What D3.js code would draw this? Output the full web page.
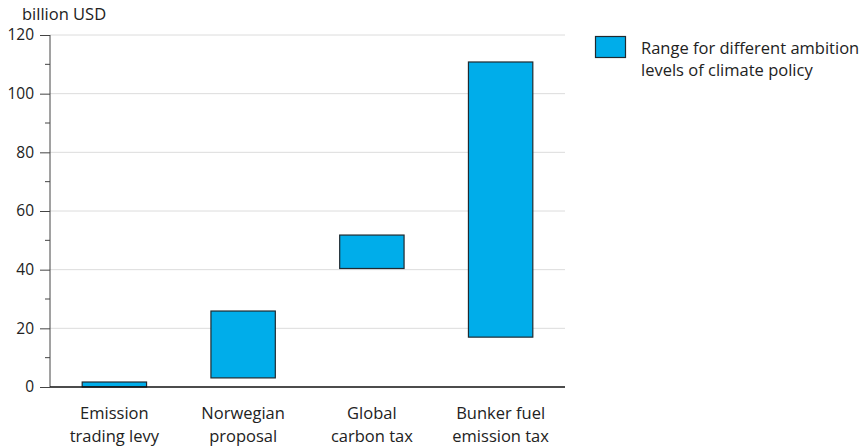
<!DOCTYPE html>
<html>
<head>
<meta charset="utf-8">
<script src="https://cdn.jsdelivr.net/npm/d3@7"></script>
<style>
  html, body { margin: 0; padding: 0; background: #fff; }
  svg { display: block; font-family: "Open Sans", "Noto Sans", sans-serif; }
</style>
</head>
<body>
<svg id="chart" width="860" height="447"></svg>
<script>
// Revenue ranges per financing instrument (billion USD)
const categories = [
  ["Emission", "trading levy"],
  ["Norwegian", "proposal"],
  ["Global", "carbon tax"],
  ["Bunker fuel", "emission tax"]
];
const lowValues = [0, 3.1, 40.4, 17.0];
const highValues = [1.7, 25.9, 51.8, 110.8];
const yTicks = [0, 20, 40, 60, 80, 100, 120];
const yMinorTicks = [10, 30, 50, 70, 90, 110];
const unitLabel = "billion USD";
const legendLines = ["Range for different ambition", "levels of climate policy"];

const svg = d3.select("#chart");
const margin = { left: 50, right: 295, top: 35, bottom: 60 };
const width = 860, height = 447;
const fill = "#00adea";
const keys = categories.map(c => c.join(" "));

const x = d3.scaleBand()
  .domain(keys)
  .range([margin.left, width - margin.right])
  .paddingInner(0.5)
  .paddingOuter(0.25);

const y = d3.scaleLinear()
  .domain([0, 120])
  .range([height - margin.bottom, margin.top]);

// Horizontal gridlines
svg.append("g")
  .selectAll("line")
  .data(yTicks.filter(d => d > 0))
  .join("line")
  .attr("x1", margin.left)
  .attr("x2", width - margin.right)
  .attr("y1", d => y(d))
  .attr("y2", d => y(d))
  .attr("stroke", "#dcdcdc")
  .attr("stroke-width", 1);

// Range bars
svg.append("g")
  .selectAll("rect")
  .data(keys)
  .join("rect")
  .attr("x", d => x(d))
  .attr("width", x.bandwidth())
  .attr("y", (d, i) => y(highValues[i]))
  .attr("height", (d, i) => y(lowValues[i]) - y(highValues[i]))
  .attr("fill", fill)
  .attr("stroke", "#1f2a30")
  .attr("stroke-width", 1.2);

// Y axis with major and minor ticks
const yAxis = svg.append("g")
  .attr("transform", `translate(${margin.left},0)`)
  .call(d3.axisLeft(y).tickValues(yTicks).tickSize(10).tickPadding(6).tickFormat(d3.format("d")));
yAxis.select(".domain").attr("stroke", "#444").attr("d", `M0,${y(0)}V${y(120)}`);
yAxis.selectAll(".tick line").attr("stroke", "#444");
yAxis.selectAll(".tick text")
  .attr("font-size", 15.5)
  .attr("fill", "#222")
  .attr("font-family", "'Open Sans', sans-serif");

svg.append("g")
  .attr("transform", `translate(${margin.left},0)`)
  .selectAll("line")
  .data(yMinorTicks)
  .join("line")
  .attr("x1", -5)
  .attr("x2", 0)
  .attr("y1", d => y(d))
  .attr("y2", d => y(d))
  .attr("stroke", "#444");

// X baseline
svg.append("line")
  .attr("x1", margin.left)
  .attr("x2", width - margin.right)
  .attr("y1", y(0))
  .attr("y2", y(0))
  .attr("stroke", "#111")
  .attr("stroke-width", 1.3);

// Category labels (two lines each)
const xl = svg.append("g")
  .attr("font-size", 16.5)
  .attr("fill", "#222")
  .attr("text-anchor", "middle");
xl.selectAll("text")
  .data(categories)
  .join("text")
  .attr("x", (d, i) => x(keys[i]) + x.bandwidth() / 2)
  .attr("y", y(0) + 32)
  .selectAll("tspan")
  .data(d => d)
  .join("tspan")
  .attr("x", function () { return this.parentNode.getAttribute("x"); })
  .attr("dy", (d, i) => i === 0 ? 0 : 23)
  .text(d => d);

// Unit label
svg.append("text")
  .attr("x", 22)
  .attr("y", 20)
  .attr("font-size", 16.5)
  .attr("fill", "#222")
  .text(unitLabel);

// Legend
svg.append("rect")
  .attr("x", 595.5)
  .attr("y", 36.5)
  .attr("width", 30)
  .attr("height", 21)
  .attr("fill", fill)
  .attr("stroke", "#1f2a30")
  .attr("stroke-width", 1.2);
svg.append("text")
  .attr("x", 641)
  .attr("font-size", 16.5)
  .attr("fill", "#222")
  .selectAll("tspan")
  .data(legendLines)
  .join("tspan")
  .attr("x", 641)
  .attr("y", (d, i) => 54 + i * 22)
  .text(d => d);
</script>
</body>
</html>
